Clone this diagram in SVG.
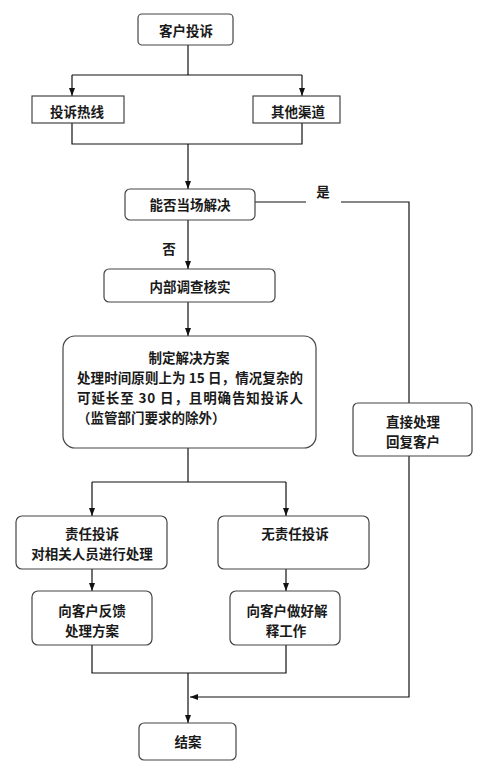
<svg xmlns="http://www.w3.org/2000/svg" width="484" height="774" viewBox="0 0 484 774">
<defs>
<marker id="arr" markerUnits="userSpaceOnUse" markerWidth="8" markerHeight="8" viewBox="0 0 8 8" refX="8" refY="4" orient="auto">
<path d="M0,1 L8,4 L0,7 Z" fill="#111"/>
</marker>
<style>
.box{fill:#fff;stroke:#444;stroke-width:1.2}
.ln{fill:none;stroke:#111;stroke-width:1.2}
.ar{fill:none;stroke:#111;stroke-width:1.2;marker-end:url(#arr)}
text{font-family:"Noto Sans CJK SC","Liberation Sans",sans-serif;font-size:13.5px;font-weight:bold;fill:#1a1a1a;dominant-baseline:central}
.c{text-anchor:middle}
</style>
</defs>
<rect width="484" height="774" fill="#fff"/>
<g id="connectors">
<path class="ln" d="M188,45 V75 M72,75 H302"/>
<path class="ar" d="M72,75 V96"/>
<path class="ar" d="M302,75 V96"/>
<path class="ln" d="M72,123 V144 H302 V123"/>
<path class="ar" d="M188,144 V189"/>
<path class="ar" d="M188,220 V269"/>
<path class="ar" d="M188,302 V336"/>
<path class="ln" d="M255,202 H306 M341,202 H409 V403"/>
<path class="ln" d="M188,448 V482 M92,482 H286"/>
<path class="ar" d="M92,482 V516"/>
<path class="ar" d="M286,482 V516"/>
<path class="ar" d="M92,569 V591"/>
<path class="ar" d="M286,569 V591"/>
<path class="ln" d="M92,645 V673 H286 V645"/>
<path class="ar" d="M188,673 V723"/>
<path class="ar" d="M409,456 V697 H190"/>
<text class="c" x="323" y="191">是</text>
<text class="c" x="169" y="248">否</text>
</g>
<g id="n1"><rect class="box" x="138" y="14" width="95" height="31" rx="4"/><text class="c" x="186" y="30">客户投诉</text></g>
<g id="n2"><rect class="box" x="32" y="96" width="92" height="27"/><text class="c" x="77" y="110.5">投诉热线</text></g>
<g id="n3"><rect class="box" x="253" y="96" width="87" height="27"/><text class="c" x="298" y="110.5">其他渠道</text></g>
<g id="n4"><rect class="box" x="125" y="189" width="130" height="31" rx="5"/><text class="c" x="190" y="204">能否当场解决</text></g>
<g id="n5"><rect class="box" x="104" y="269" width="171" height="33" rx="5"/><text class="c" x="190" y="286">内部调查核实</text></g>
<g id="n6"><rect class="box" x="63" y="336" width="253" height="112" rx="12"/>
<text class="c" x="189" y="357">制定解决方案</text>
<text x="77" y="377" textLength="226" lengthAdjust="spacing">处理时间原则上为 15 日，情况复杂的</text>
<text x="77" y="397" textLength="226" lengthAdjust="spacing">可延长至 30 日，且明确告知投诉人</text>
<text x="77" y="417">（监管部门要求的除外）</text>
</g>
<g id="n7"><rect class="box" x="353" y="403" width="119" height="53" rx="5"/><text class="c" x="413" y="421">直接处理</text><text class="c" x="413" y="441">回复客户</text></g>
<g id="n8"><rect class="box" x="16" y="516" width="151" height="53" rx="6"/><text class="c" x="92" y="533">责任投诉</text><text class="c" x="92" y="553">对相关人员进行处理</text></g>
<g id="n9"><rect class="box" x="218" y="516" width="151" height="53" rx="6"/><text class="c" x="295" y="533">无责任投诉</text></g>
<g id="n10"><rect class="box" x="32" y="591" width="120" height="54" rx="6"/><text class="c" x="92" y="610">向客户反馈</text><text class="c" x="92" y="630">处理方案</text></g>
<g id="n11"><rect class="box" x="230" y="591" width="110" height="54" rx="6"/><text class="c" x="287" y="610">向客户做好解</text><text class="c" x="286" y="630">释工作</text></g>
<g id="n12"><rect class="box" x="139" y="723" width="97" height="37" rx="5"/><text class="c" x="188" y="741">结案</text></g>
</svg>
